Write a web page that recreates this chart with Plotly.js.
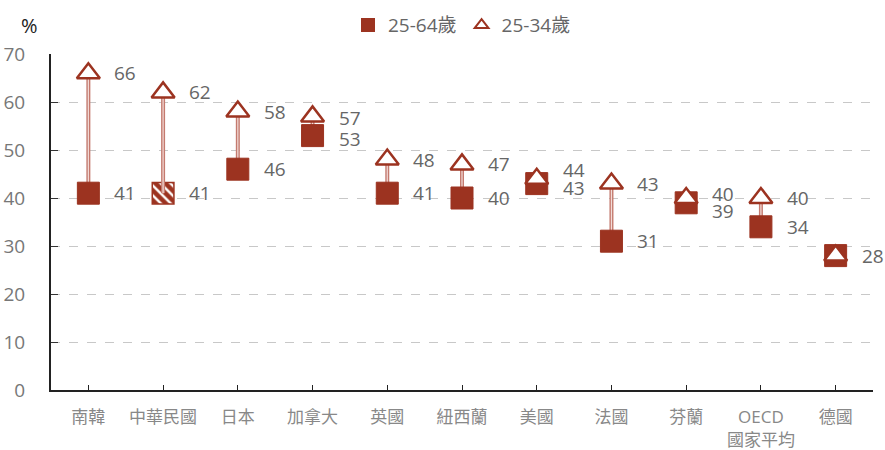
<!DOCTYPE html>
<html><head><meta charset="utf-8">
<script src="https://cdn.plot.ly/plotly-3.0.1.min.js"></script>
<style>body{margin:0;background:#fff}#c{width:885px;height:450px}</style>
</head><body><div id="c"></div>
<script>
const categories = ['南韓','中華民國','日本','加拿大','英國','紐西蘭','美國','法國','芬蘭','OECD<br>國家平均','德國'];
const age2564 = [41,41,46,53,41,40,43,31,39,34,28];
const age2534 = [66,62,58,57,48,47,44,43,40,40,28];
const seriesNames = ['25-64歲','25-34歲'];
const yTicks = [0,10,20,30,40,50,60,70];

// label vertical nudges (px, positive = down); null = no label
const shift2564 = [0,0,0,3,0,0,4,0,8,0,0];
const shift2534 = [0,0,0,2,0,0,-9,0,-4,0,null];

const RED = '#9c3320';
const GRAY = '#666';
const hatchIdx = 1;

const xIdx = categories.map((_, i) => i);
const traces = [];
categories.forEach((c, i) => {
  if (age2534[i] === age2564[i]) return;
  traces.push({x:[i,i], y:[age2564[i], age2534[i]], mode:'lines', line:{color:'#c47a6f', width:4}, showlegend:false, hoverinfo:'skip'});
  traces.push({x:[i,i], y:[age2564[i], age2534[i]], mode:'lines', line:{color:'#f3dcd8', width:1.2}, showlegend:false, hoverinfo:'skip'});
});
traces.push({
  x: xIdx.filter(i => i !== hatchIdx), y: age2564.filter((v,i) => i !== hatchIdx),
  mode:'markers', name: seriesNames[0],
  marker:{symbol:'square', size:22, color:RED, line:{color:RED, width:1}}
});
traces.push({
  type:'bar', x:[hatchIdx], y:[4.5], base:[age2564[hatchIdx]-2.25], width:0.29,
  marker:{color:RED, line:{color:RED, width:1.5}, pattern:{shape:'\\', fgcolor:'#ffffff', bgcolor:RED, size:7, solidity:0.35}},
  showlegend:false, hoverinfo:'skip'
});
traces.push({
  x: xIdx, y: age2534, mode:'markers', name: seriesNames[1],
  marker:{symbol:'triangle-up', size:20, color:'#ffffff', line:{color:RED, width:2.5}}
});

const annotations = [];
categories.forEach((c, i) => {
  if (shift2564[i] !== null) annotations.push({x:i, y:age2564[i], text:String(age2564[i]), showarrow:false, xanchor:'left', xshift:25, yshift:-shift2564[i], borderpad:0, font:{size:19, color:GRAY}});
  if (shift2534[i] !== null) annotations.push({x:i, y:age2534[i], text:String(age2534[i]), showarrow:false, xanchor:'left', xshift:25, yshift:-shift2534[i], borderpad:0, font:{size:19, color:GRAY}});
});
annotations.push({xref:'paper', yref:'paper', x:-0.026, y:1.086, xanchor:'center', yanchor:'middle', text:'%', showarrow:false, font:{size:20, color:'#222'}});

const layout = {
  width:885, height:450,
  margin:{l:51, r:12, t:54, b:60},
  paper_bgcolor:'#fff', plot_bgcolor:'#fff',
  font:{family:'"Open Sans","Noto Sans CJK TC",sans-serif', color:GRAY},
  barmode:'overlay',
  showlegend:true,
  legend:{orientation:'h', x:0.5, xanchor:'center', yref:'container', y:0.944, yanchor:'middle', font:{size:19, color:GRAY}, itemsizing:'constant', traceorder:'normal', itemwidth:30},
  xaxis:{
    range:[-0.5, 10.5], tickmode:'array', tickvals:xIdx, ticktext:categories,
    tickson:'boundaries', ticks:'inside', ticklen:5, tickcolor:'#222',
    showline:true, linecolor:'#222', linewidth:2, showgrid:false, zeroline:false,
    tickfont:{size:17, color:'#888'}, ticklabelstandoff:11, fixedrange:true
  },
  yaxis:{
    range:[0,70], tickmode:'array', tickvals:yTicks,
    ticks:'inside', ticklen:7, tickcolor:'#333',
    showline:true, linecolor:'#222', linewidth:2,
    showgrid:true, gridcolor:'#c8c8c8', griddash:'dash', gridwidth:1, zeroline:false,
    tickfont:{size:19, color:'#777'}, ticklabelstandoff:20
  },
  annotations: annotations
};
Plotly.newPlot('c', traces, layout, {displayModeBar:false, staticPlot:true});
</script></body></html>
